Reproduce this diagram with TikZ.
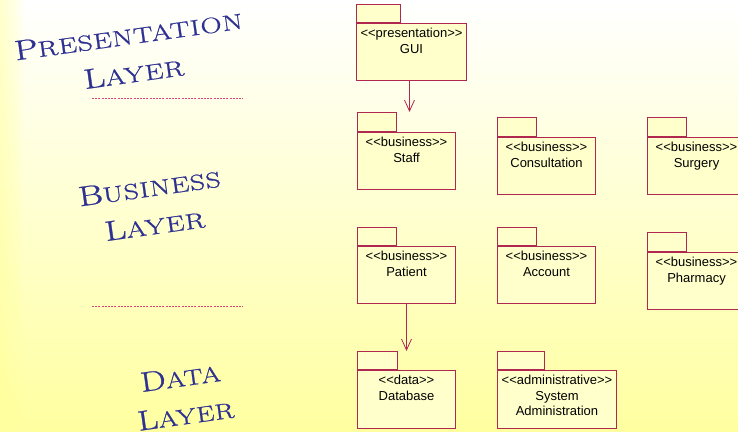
\documentclass[tikz,border=0pt]{standalone}
\usepackage{fontspec}
\newfontfamily\pkgfont{Liberation Sans}
\newfontfamily\capfont[LetterSpace=3,FakeBold=0.8]{Latin Modern Roman}
\usetikzlibrary{arrows.meta}
\definecolor{pkgline}{RGB}{176,40,80}
\definecolor{pkgfill}{RGB}{255,255,204}
\definecolor{layerblue}{RGB}{46,49,146}
\definecolor{sepred}{RGB}{214,70,120}
\definecolor{bgyellow}{RGB}{255,255,160}

% UML stereotype guillemets written as plain angle brackets
\newcommand\stereo[1]{<\kern0pt<#1>\kern0pt>}
% hand-made small capitals: large initial, smaller capitals after it
\newcommand\layerword[2]{{\capfont\fontsize{28}{39}\selectfont #1}{\capfont\fontsize{22}{39}\selectfont #2}}

\begin{document}
\begin{tikzpicture}[x=1pt,y=-1pt,
  pkgbody/.style={draw=pkgline, fill=pkgfill, line width=1pt, anchor=north west,
    inner sep=0pt, minimum height=57pt},
  pkgtab/.style={draw=pkgline, fill=pkgfill, line width=1pt, anchor=south west,
    inner sep=0pt, minimum height=18pt},
  pkgtext/.style={anchor=north, inner sep=0pt, yshift=-5pt, align=center,
    font=\pkgfont\fontsize{13}{15.5}\selectfont},
  dep/.style={draw=pkgline, line width=0.8pt, -{Straight Barb[length=11pt,width=10pt]}},
  layertext/.style={text=layerblue, align=center, inner sep=0pt, transform shape,
    font=\fontsize{22}{38}\selectfont},
  separator/.style={draw=sepred, line width=1pt, dash pattern=on 2pt off 1.2pt}
]
\useasboundingbox (0,0) rectangle (738,431);
\clip (0,0) rectangle (738,431);

% background wash: white at the top to yellow at the bottom, tinted left edge
\fill[top color=white, bottom color=bgyellow] (0,0) rectangle (738,431);
\foreach \w in {2,4,...,24}
  \fill[bgyellow, opacity=0.05] (0,0) rectangle (\w,431);

% layer captions
\begin{scope}[shift={(131,54)}, rotate=8, xscale=1.33]
  \node[layertext] (presentation) {\layerword{P}{RESENTATION}\\\layerword{L}{AYER}};
\end{scope}
\begin{scope}[shift={(152,206)}, rotate=8, xscale=1.33]
  \node[layertext] (business) {\layerword{B}{USINESS}\\\layerword{L}{AYER}};
\end{scope}
\begin{scope}[shift={(183,396)}, rotate=8, xscale=1.28]
  \node[layertext] (data) {\layerword{D}{ATA}\\\layerword{L}{AYER}};
\end{scope}

% layer separators
\draw[separator] (92,98) -- (243,98);
\draw[separator] (92,306) -- (243,306);

% presentation layer
\node[pkgbody, minimum width=110pt,
  label={[pkgtext]90:{\stereo{presentation}\\GUI}}] (gui) at (356,23) {};
\node[pkgtab, minimum width=44pt] (guitab) at (gui.north west) {};

% business layer
\node[pkgbody, minimum width=98pt,
  label={[pkgtext]90:{\stereo{business}\\Staff}}] (staff) at (357,132) {};
\node[pkgtab, minimum width=39pt, minimum height=19pt] (stafftab) at (staff.north west) {};

\node[pkgbody, minimum width=98pt,
  label={[pkgtext]90:{\stereo{business}\\Consultation}}] (consult) at (497,137) {};
\node[pkgtab, minimum width=39pt, minimum height=19pt] (consulttab) at (consult.north west) {};

\node[pkgbody, minimum width=98pt,
  label={[pkgtext]90:{\stereo{business}\\Surgery}}] (surgery) at (647,137) {};
\node[pkgtab, minimum width=39pt, minimum height=19pt] (surgerytab) at (surgery.north west) {};

\node[pkgbody, minimum width=98pt,
  label={[pkgtext]90:{\stereo{business}\\Patient}}] (patient) at (357,246) {};
\node[pkgtab, minimum width=39pt] (patienttab) at (patient.north west) {};

\node[pkgbody, minimum width=98pt,
  label={[pkgtext]90:{\stereo{business}\\Account}}] (account) at (497,246) {};
\node[pkgtab, minimum width=39pt] (accounttab) at (account.north west) {};

\node[pkgbody, minimum width=98pt,
  label={[pkgtext]90:{\stereo{business}\\Pharmacy}}] (pharmacy) at (647,252) {};
\node[pkgtab, minimum width=39pt, minimum height=19pt] (pharmacytab) at (pharmacy.north west) {};

% data layer
\node[pkgbody, minimum width=98pt, minimum height=58pt,
  label={[pkgtext]90:{\stereo{data}\\Database}}] (db) at (357,370) {};
\node[pkgtab, minimum width=40pt] (dbtab) at (db.north west) {};

\node[pkgbody, minimum width=119pt, minimum height=58pt,
  label={[pkgtext]90:{\stereo{administrative}\\System\\Administration}}] (sysadmin) at (497,370) {};
\node[pkgtab, minimum width=47pt] (sysadmintab) at (sysadmin.north west) {};

% dependencies
\draw[dep] ([xshift=-2pt]gui.south) -- ([xshift=-2pt]gui.south |- stafftab.north);
\draw[dep] (patient.south) -- (patient.south |- dbtab.north);
\end{tikzpicture}
\end{document}
